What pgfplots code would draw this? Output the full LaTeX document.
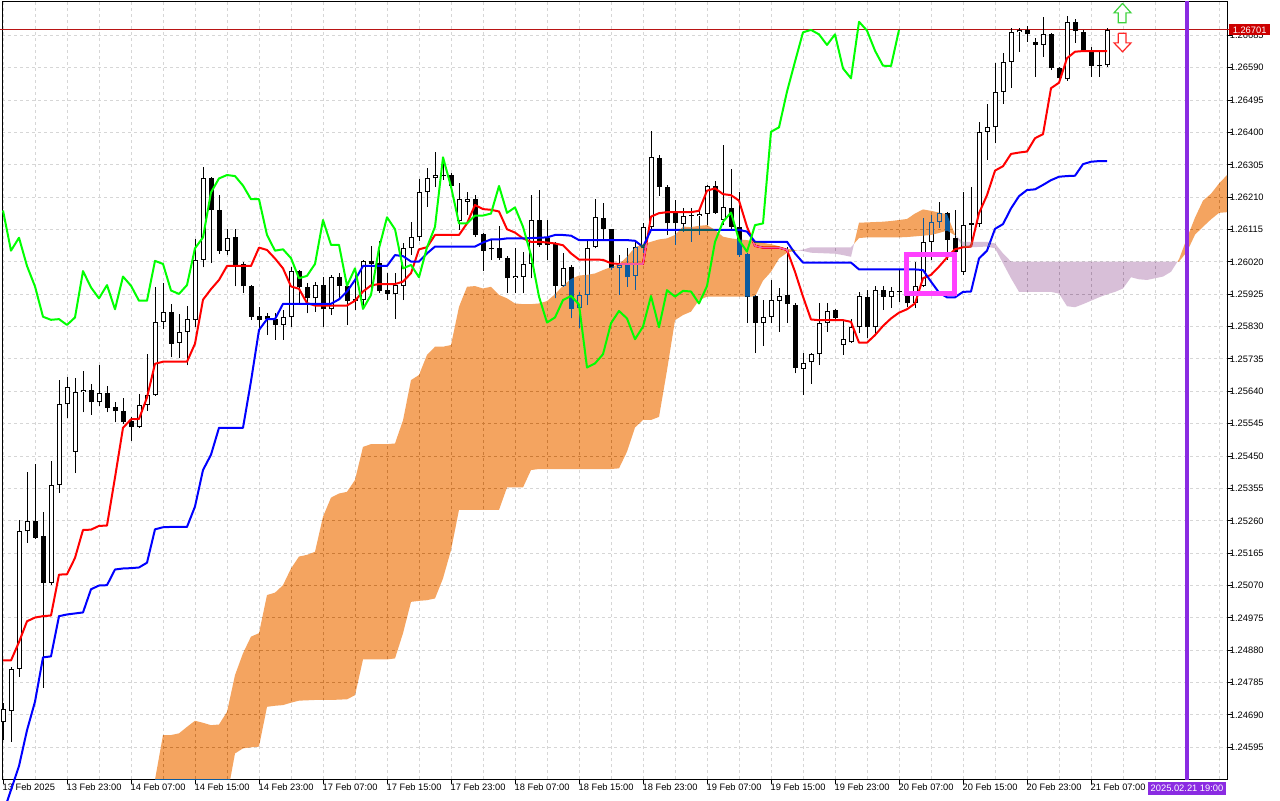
\documentclass[border=0pt]{standalone}
\usepackage{pgfplots}
\usepackage{pgfplotstable}
\pgfplotsset{compat=1.18}
\usepgfplotslibrary{fillbetween}
\usepackage{fontspec}
\setmainfont{Liberation Sans}
\definecolor{cloudinvA}{RGB}{11,91,159}
\definecolor{cloudinvB}{RGB}{39,64,39}
\definecolor{vlinec}{RGB}{138,43,226}
\definecolor{pricered}{RGB}{204,0,0}
\definecolor{pricel}{RGB}{185,20,20}
\definecolor{boxmag}{RGB}{255,64,255}
\definecolor{gridc}{RGB}{214,214,214}
\definecolor{limeg}{RGB}{0,255,0}
\definecolor{arrg}{RGB}{60,210,60}

\pgfplotstableread{
i o h l c
0 1.24668 1.24724 1.24617 1.24707
1 1.24701 1.24830 1.24611 1.24825
2 1.24825 1.25263 1.24802 1.25229
3 1.25229 1.25403 1.25196 1.25260
4 1.25260 1.25428 1.25207 1.25210
5 1.25215 1.25285 1.24769 1.25078
6 1.25078 1.25437 1.25072 1.25366
7 1.25366 1.25673 1.25342 1.25602
8 1.25602 1.25681 1.25561 1.25652
9 1.25463 1.25679 1.25400 1.25638
10 1.25637 1.25701 1.25578 1.25643
11 1.25644 1.25662 1.25572 1.25608
12 1.25608 1.25716 1.25598 1.25635
13 1.25635 1.25656 1.25578 1.25592
14 1.25594 1.25609 1.25549 1.25581
15 1.25581 1.25620 1.25544 1.25551
16 1.25553 1.25566 1.25494 1.25535
17 1.25535 1.25632 1.25533 1.25599
18 1.25600 1.25749 1.25583 1.25630
19 1.25628 1.25945 1.25627 1.25845
20 1.25845 1.25958 1.25822 1.25872
21 1.25874 1.25895 1.25740 1.25780
22 1.25783 1.25866 1.25737 1.25813
23 1.25813 1.25890 1.25716 1.25851
24 1.25849 1.26086 1.25828 1.26027
25 1.26027 1.26299 1.26004 1.26265
26 1.26265 1.26268 1.26018 1.26171
27 1.26171 1.26216 1.26044 1.26053
28 1.26053 1.26116 1.26040 1.26091
29 1.26092 1.26116 1.25948 1.26008
30 1.26014 1.26021 1.25928 1.25948
31 1.25950 1.25952 1.25850 1.25859
32 1.25861 1.25889 1.25815 1.25850
33 1.25861 1.25869 1.25806 1.25852
34 1.25852 1.25869 1.25791 1.25835
35 1.25835 1.25879 1.25791 1.25857
36 1.25857 1.26006 1.25830 1.25993
37 1.25993 1.25995 1.25899 1.25945
38 1.25947 1.25957 1.25869 1.25913
39 1.25913 1.25962 1.25874 1.25952
40 1.25952 1.25977 1.25830 1.25881
41 1.25881 1.25982 1.25864 1.25977
42 1.25977 1.25987 1.25913 1.25950
43 1.25950 1.25962 1.25835 1.25906
44 1.25910 1.26001 1.25879 1.25906
45 1.25908 1.26026 1.25884 1.26023
46 1.26023 1.26067 1.25943 1.26014
47 1.26016 1.26080 1.25928 1.25936
48 1.25938 1.25987 1.25908 1.25926
49 1.25926 1.25987 1.25852 1.25952
50 1.25950 1.26075 1.25908 1.26060
51 1.26060 1.26138 1.26040 1.26092
52 1.26092 1.26263 1.26080 1.26224
53 1.26224 1.26295 1.26182 1.26265
54 1.26265 1.26344 1.26241 1.26275
55 1.26275 1.26324 1.26261 1.26272
56 1.26275 1.26280 1.26241 1.26244
57 1.26141 1.26251 1.26114 1.26204
58 1.26197 1.26226 1.26158 1.26204
59 1.26204 1.26217 1.26094 1.26099
60 1.26101 1.26104 1.25994 1.26053
61 1.26060 1.26086 1.26026 1.26057
62 1.26060 1.26126 1.26026 1.26031
63 1.26031 1.26036 1.25928 1.25972
64 1.25973 1.26060 1.25928 1.25979
65 1.25977 1.26050 1.25928 1.26014
66 1.26014 1.26216 1.25972 1.26143
67 1.26143 1.26231 1.26065 1.26070
68 1.26089 1.26143 1.26026 1.26070
69 1.26074 1.26079 1.25913 1.25950
70 1.25950 1.26045 1.25947 1.26001
71 1.26006 1.26011 1.25854 1.25882
72 1.25884 1.25933 1.25825 1.25923
73 1.25923 1.26082 1.25893 1.26060
74 1.26063 1.26204 1.26060 1.26151
75 1.26148 1.26192 1.26084 1.26116
76 1.26116 1.26118 1.25996 1.26001
77 1.26001 1.26040 1.25923 1.26011
78 1.26011 1.26062 1.25947 1.25975
79 1.25979 1.26079 1.25938 1.26063
80 1.26060 1.26133 1.26045 1.26123
81 1.26123 1.26405 1.26114 1.26327
82 1.26324 1.26334 1.26214 1.26241
83 1.26241 1.26246 1.26099 1.26133
84 1.26167 1.26202 1.26070 1.26133
85 1.26131 1.26177 1.26109 1.26156
86 1.26159 1.26177 1.26079 1.26156
87 1.26155 1.26177 1.26099 1.26162
88 1.26162 1.26246 1.26128 1.26243
89 1.26243 1.26258 1.26162 1.26164
90 1.26143 1.26363 1.26128 1.26180
91 1.26177 1.26292 1.26114 1.26123
92 1.26123 1.26226 1.26035 1.26040
93 1.26043 1.26045 1.25840 1.25918
94 1.25920 1.25923 1.25752 1.25842
95 1.25840 1.25908 1.25773 1.25857
96 1.25859 1.25967 1.25840 1.25908
97 1.25906 1.25942 1.25815 1.25920
98 1.25923 1.26065 1.25840 1.25895
99 1.25893 1.25900 1.25693 1.25710
100 1.25707 1.25752 1.25629 1.25722
101 1.25725 1.25753 1.25663 1.25749
102 1.25749 1.25900 1.25717 1.25840
103 1.25840 1.25900 1.25815 1.25876
104 1.25879 1.25881 1.25849 1.25854
105 1.25776 1.25849 1.25747 1.25793
106 1.25784 1.25851 1.25783 1.25830
107 1.25830 1.25933 1.25810 1.25920
108 1.25918 1.25939 1.25796 1.25828
109 1.25828 1.25949 1.25805 1.25937
110 1.25937 1.25949 1.25879 1.25918
111 1.25918 1.25945 1.25886 1.25935
112 1.25935 1.25996 1.25903 1.25933
113 1.25920 1.25937 1.25889 1.25898
114 1.25898 1.26021 1.25884 1.25949
115 1.25949 1.26148 1.25947 1.26079
116 1.26079 1.26158 1.26026 1.26138
117 1.26138 1.26195 1.26121 1.26165
118 1.26165 1.26167 1.26026 1.26084
119 1.26091 1.26172 1.26035 1.26050
120 1.25991 1.26226 1.25982 1.26128
121 1.26128 1.26241 1.26070 1.26133
122 1.26130 1.26432 1.26123 1.26402
123 1.26402 1.26485 1.26319 1.26415
124 1.26415 1.26603 1.26368 1.26520
125 1.26520 1.26634 1.26485 1.26608
126 1.26608 1.26706 1.26530 1.26694
127 1.26694 1.26706 1.26637 1.26701
128 1.26701 1.26712 1.26667 1.26688
129 1.26665 1.26676 1.26564 1.26657
130 1.26657 1.26738 1.26622 1.26688
131 1.26688 1.26691 1.26583 1.26588
132 1.26588 1.26593 1.26549 1.26559
133 1.26556 1.26742 1.26552 1.26725
134 1.26725 1.26732 1.26664 1.26699
135 1.26696 1.26701 1.26637 1.26640
136 1.26637 1.26652 1.26564 1.26596
137 1.26598 1.26642 1.26564 1.26595
138 1.26598 1.26706 1.26593 1.26701
}\candles

\pgfplotstableread{
i t k
0 1.24850 1.24400
1 1.24850 1.24470
2 1.24904 1.24540
3 1.24965 1.24645
4 1.24976 1.24729
5 1.24980 1.24859
6 1.24982 1.24862
7 1.25102 1.24980
8 1.25103 1.24985
9 1.25151 1.24988
10 1.25233 1.24991
11 1.25234 1.25059
12 1.25245 1.25070
13 1.25246 1.25071
14 1.25387 1.25117
15 1.25533 1.25120
16 1.25558 1.25121
17 1.25559 1.25123
18 1.25622 1.25137
19 1.25721 1.25235
20 1.25727 1.25241
21 1.25727 1.25242
22 1.25727 1.25242
23 1.25727 1.25242
24 1.25780 1.25302
25 1.25909 1.25409
26 1.25940 1.25454
27 1.25967 1.25533
28 1.26008 1.25533
29 1.26008 1.25533
30 1.26008 1.25533
31 1.26008 1.25670
32 1.26062 1.25820
33 1.26055 1.25852
34 1.26030 1.25852
35 1.26001 1.25897
36 1.25948 1.25897
37 1.25941 1.25897
38 1.25899 1.25897
39 1.25892 1.25897
40 1.25892 1.25897
41 1.25892 1.25897
42 1.25892 1.25910
43 1.25892 1.25933
44 1.25906 1.25967
45 1.25933 1.26008
46 1.25951 1.26008
47 1.25955 1.26008
48 1.25955 1.26008
49 1.25955 1.26040
50 1.25962 1.26037
51 1.25987 1.26021
52 1.26057 1.26021
53 1.26063 1.26045
54 1.26099 1.26065
55 1.26099 1.26065
56 1.26099 1.26065
57 1.26099 1.26065
58 1.26133 1.26065
59 1.26187 1.26065
60 1.26175 1.26077
61 1.26173 1.26086
62 1.26168 1.26086
63 1.26116 1.26089
64 1.26106 1.26089
65 1.26089 1.26089
66 1.26079 1.26090
67 1.26079 1.26091
68 1.26077 1.26092
69 1.26074 1.26099
70 1.26069 1.26099
71 1.26045 1.26097
72 1.26027 1.26084
73 1.26027 1.26084
74 1.26027 1.26084
75 1.26026 1.26084
76 1.26016 1.26084
77 1.26014 1.26084
78 1.26014 1.26084
79 1.26014 1.26082
80 1.26014 1.26064
81 1.26153 1.26114
82 1.26163 1.26114
83 1.26166 1.26114
84 1.26166 1.26114
85 1.26166 1.26114
86 1.26166 1.26114
87 1.26170 1.26114
88 1.26229 1.26114
89 1.26236 1.26114
90 1.26219 1.26114
91 1.26216 1.26114
92 1.26200 1.26114
93 1.26123 1.26109
94 1.26067 1.26079
95 1.26062 1.26079
96 1.26062 1.26079
97 1.26062 1.26079
98 1.26055 1.26079
99 1.25991 1.26045
100 1.25918 1.26018
101 1.25851 1.26018
102 1.25849 1.26018
103 1.25849 1.26018
104 1.25849 1.26018
105 1.25849 1.26018
106 1.25844 1.26018
107 1.25783 1.25998
108 1.25783 1.25998
109 1.25805 1.25998
110 1.25832 1.25998
111 1.25854 1.25998
112 1.25871 1.25998
113 1.25881 1.25998
114 1.25898 1.25998
115 1.25972 1.25996
116 1.25982 1.25962
117 1.26006 1.25930
118 1.26033 1.25916
119 1.26057 1.25916
120 1.26063 1.25932
121 1.26065 1.25933
122 1.26163 1.26030
123 1.26216 1.26053
124 1.26288 1.26117
125 1.26301 1.26131
126 1.26337 1.26177
127 1.26341 1.26213
128 1.26344 1.26231
129 1.26383 1.26233
130 1.26395 1.26246
131 1.26530 1.26260
132 1.26546 1.26270
133 1.26618 1.26272
134 1.26637 1.26273
135 1.26639 1.26307
136 1.26639 1.26314
137 1.26639 1.26316
138 1.26639 1.26316
}\lines

\pgfplotstableread{
i ch
0 1.26171
1 1.26053
2 1.26091
3 1.26008
4 1.25948
5 1.25859
6 1.25850
7 1.25852
8 1.25835
9 1.25857
10 1.25993
11 1.25945
12 1.25913
13 1.25952
14 1.25881
15 1.25977
16 1.25950
17 1.25906
18 1.25906
19 1.26023
20 1.26014
21 1.25936
22 1.25926
23 1.25952
24 1.26060
25 1.26092
26 1.26224
27 1.26265
28 1.26275
29 1.26272
30 1.26244
31 1.26204
32 1.26204
33 1.26099
34 1.26053
35 1.26057
36 1.26031
37 1.25972
38 1.25979
39 1.26014
40 1.26143
41 1.26070
42 1.26070
43 1.25950
44 1.26001
45 1.25882
46 1.25923
47 1.26060
48 1.26151
49 1.26116
50 1.26001
51 1.26011
52 1.25975
53 1.26063
54 1.26123
55 1.26327
56 1.26241
57 1.26133
58 1.26133
59 1.26156
60 1.26156
61 1.26162
62 1.26243
63 1.26164
64 1.26180
65 1.26123
66 1.26040
67 1.25918
68 1.25842
69 1.25857
70 1.25908
71 1.25920
72 1.25895
73 1.25710
74 1.25722
75 1.25749
76 1.25840
77 1.25876
78 1.25854
79 1.25793
80 1.25830
81 1.25920
82 1.25828
83 1.25937
84 1.25918
85 1.25935
86 1.25933
87 1.25898
88 1.25949
89 1.26079
90 1.26138
91 1.26165
92 1.26084
93 1.26050
94 1.26128
95 1.26133
96 1.26402
97 1.26415
98 1.26520
99 1.26608
100 1.26694
101 1.26701
102 1.26688
103 1.26657
104 1.26688
105 1.26588
106 1.26559
107 1.26725
108 1.26699
109 1.26640
110 1.26596
111 1.26595
112 1.26701
}\chikou

\pgfplotstableread{
i A B
17 1.24300 1.24300
18 1.24400 1.24300
19 1.24500 1.24300
20 1.24631 1.24300
21 1.24631 1.24300
22 1.24636 1.24300
23 1.24655 1.24300
24 1.24673 1.24300
25 1.24667 1.24300
26 1.24660 1.24300
27 1.24662 1.24300
28 1.24699 1.24450
29 1.24807 1.24577
30 1.24871 1.24592
31 1.24920 1.24595
32 1.24930 1.24597
33 1.25042 1.24714
34 1.25049 1.24717
35 1.25071 1.24719
36 1.25120 1.24726
37 1.25155 1.24732
38 1.25160 1.24733
39 1.25169 1.24734
40 1.25272 1.24734
41 1.25328 1.24734
42 1.25340 1.24735
43 1.25345 1.24736
44 1.25380 1.24748
45 1.25477 1.24853
46 1.25485 1.24853
47 1.25485 1.24853
48 1.25485 1.24853
49 1.25487 1.24856
50 1.25555 1.24930
51 1.25673 1.25022
52 1.25688 1.25025
53 1.25747 1.25027
54 1.25771 1.25032
55 1.25771 1.25091
56 1.25776 1.25174
57 1.25888 1.25292
58 1.25947 1.25292
59 1.25949 1.25292
60 1.25942 1.25292
61 1.25947 1.25292
62 1.25923 1.25292
63 1.25913 1.25358
64 1.25898 1.25358
65 1.25896 1.25358
66 1.25896 1.25409
67 1.25898 1.25412
68 1.25905 1.25412
69 1.25925 1.25412
70 1.25950 1.25412
71 1.25970 1.25412
72 1.25980 1.25412
73 1.25982 1.25412
74 1.25986 1.25412
75 1.25996 1.25412
76 1.26005 1.25412
77 1.26013 1.25414
78 1.26035 1.25463
79 1.26063 1.25534
80 1.26072 1.25556
81 1.26079 1.25556
82 1.26086 1.25565
83 1.26089 1.25702
84 1.26099 1.25849
85 1.26124 1.25864
86 1.26122 1.25874
87 1.26126 1.25908
88 1.26128 1.25918
89 1.26114 1.25918
90 1.26094 1.25918
91 1.26089 1.25918
92 1.26086 1.25918
93 1.26084 1.25918
94 1.26079 1.25918
95 1.26076 1.25965
96 1.26072 1.25991
97 1.26066 1.26030
98 1.26059 1.26047
99 1.26055 1.26053
100 1.26052 1.26056
101 1.26047 1.26063
102 1.26046 1.26063
103 1.26045 1.26063
104 1.26044 1.26063
105 1.26040 1.26063
106 1.26035 1.26063
107 1.26135 1.26090
108 1.26136 1.26092
109 1.26137 1.26092
110 1.26138 1.26092
111 1.26140 1.26092
112 1.26143 1.26092
113 1.26146 1.26093
114 1.26162 1.26095
115 1.26174 1.26097
116 1.26170 1.26099
117 1.26165 1.26105
118 1.26160 1.26112
119 1.26100 1.26098
120 1.26063 1.26079
121 1.26063 1.26079
122 1.26064 1.26079
123 1.26065 1.26079
124 1.26060 1.26074
125 1.26016 1.26045
126 1.25972 1.26021
127 1.25932 1.26021
128 1.25932 1.26021
129 1.25932 1.26021
130 1.25932 1.26021
131 1.25932 1.26021
132 1.25927 1.26021
133 1.25890 1.26021
134 1.25887 1.26021
135 1.25896 1.26021
136 1.25906 1.26021
137 1.25916 1.26021
138 1.25925 1.26021
139 1.25932 1.26021
140 1.25942 1.26021
141 1.25975 1.26021
142 1.25969 1.26021
143 1.25967 1.26021
144 1.25972 1.26021
145 1.25977 1.26021
146 1.25991 1.26021
147 1.26028 1.26021
148 1.26090 1.26050
149 1.26150 1.26100
150 1.26200 1.26123
151 1.26220 1.26145
152 1.26250 1.26164
153 1.26275 1.26166
}\cloud

\begin{document}
\begin{tikzpicture}
\begin{axis}[
  set layers,
  at={(1.5pt,15.75pt)}, anchor=south west,
  scale only axis, width=918.75pt, height=582.75pt,
  xmin=-0.125, xmax=153, ymin=1.24502, ymax=1.26783,
  axis background/.style={fill=white},
  axis line style={black, line width=0.75pt},
  tick align=outside, major tick length=3.5pt, minor tick length=0pt,
  tick style={black, line width=0.75pt},
  xtick pos=left, ytick pos=right,
  xtick={0,8,...,136},
  xticklabels={13 Feb 2025,13 Feb 23:00,14 Feb 07:00,14 Feb 15:00,14 Feb 23:00,17 Feb 07:00,17 Feb 15:00,17 Feb 23:00,18 Feb 07:00,18 Feb 15:00,18 Feb 23:00,19 Feb 07:00,19 Feb 15:00,19 Feb 23:00,20 Feb 07:00,20 Feb 15:00,20 Feb 23:00,21 Feb 07:00},
  minor xtick={4,12,...,132,140,144,148,152},
  ytick={1.24595,1.24690,1.24785,1.24880,1.24975,1.25070,1.25165,1.25260,1.25355,1.25450,1.25545,1.25640,1.25735,1.25830,1.25925,1.26020,1.26115,1.26210,1.26305,1.26400,1.26495,1.26590,1.26685},
  yticklabels={1.24595,1.24690,1.24785,1.24880,1.24975,1.25070,1.25165,1.25260,1.25355,1.25450,1.25545,1.25640,1.25735,1.25830,1.25925,1.26020,1.26115,1.26210,1.26305,1.26400,1.26495,1.26590,1.26685},
  yticklabel pos=right,
  xmajorgrids, ymajorgrids, xminorgrids,
  major grid style={gridc, line width=0.75pt, dash pattern=on 2.25pt off 2.25pt},
  minor grid style={gridc, line width=0.75pt, dash pattern=on 2.25pt off 2.25pt},
  tick label style={font=\fontsize{7}{8}\selectfont},
  xticklabel style={anchor=north west, inner sep=0pt, xshift=-0.5pt},
  yticklabel style={anchor=west, inner sep=0pt, xshift=-1.5pt},
]
% current price line
\addplot[pricel, line width=0.75pt, forget plot, on layer=pre main] coordinates {(-1,1.26701) (154,1.26701)};

% candle wicks
\addplot[draw=none, mark=none, forget plot, on layer=pre main,
  error bars/.cd, y dir=plus, y explicit, error mark=none,
  error bar style={draw=black, line width=0.75pt, line cap=butt}]
  table[x=i, y=l, y error plus expr={\thisrow{h}-\thisrow{l}}] {\candles};
% candle bodies (outline / bear fill)
\addplot[draw=none, mark=none, forget plot, on layer=pre main,
  error bars/.cd, y dir=plus, y explicit, error mark=none,
  error bar style={draw=black, line width=3.75pt, line cap=butt}]
  table[x=i, y expr={min(\thisrow{o},\thisrow{c})},
        y error plus expr={max(abs(\thisrow{c}-\thisrow{o}),0.00003)}] {\candles};
% bull body interior
\addplot[draw=none, mark=none, forget plot, on layer=pre main,
  error bars/.cd, y dir=plus, y explicit, error mark=none,
  error bar style={draw=white, line width=2.25pt, line cap=butt}]
  table[x=i, y expr={\thisrow{o}+0.0000294},
        y error plus expr={(\thisrow{c}>\thisrow{o})*max(\thisrow{c}-\thisrow{o}-0.0000588,0)}] {\candles};

% tenkan / kijun
\addplot[red, line width=1.5pt, line join=round, mark=none, on layer=pre main] table[x=i, y=t] {\lines};
\addplot[blue, line width=1.5pt, line join=round, mark=none, on layer=pre main] table[x=i, y=k] {\lines};

% cloud edges
\addplot[name path=SA, draw=none, mark=none, forget plot] table[x=i, y=A] {\cloud};
\addplot[name path=SB, draw=none, mark=none, forget plot] table[x=i, y=B] {\cloud};
\addplot[fill=cloudinvA, draw=none, blend mode=difference, forget plot] fill between[of=SA and SB, soft clip={domain=17:99.4}];
\addplot[fill=cloudinvB, draw=none, blend mode=difference, forget plot] fill between[of=SA and SB, soft clip={domain=99.4:106.4}];
\addplot[fill=cloudinvA, draw=none, blend mode=difference, forget plot] fill between[of=SA and SB, soft clip={domain=106.4:119.1}];
\addplot[fill=cloudinvB, draw=none, blend mode=difference, forget plot] fill between[of=SA and SB, soft clip={domain=119.1:146.8}];
\addplot[fill=cloudinvA, draw=none, blend mode=difference, forget plot] fill between[of=SA and SB, soft clip={domain=146.8:153}];

% chikou
\addplot[limeg, line width=1.5pt, line join=round, mark=none] table[x=i, y=ch] {\chikou};

% vertical time line
\addplot[vlinec, line width=3.2pt, forget plot] coordinates {(148,1.24400) (148,1.26900)};

% magenta box
\addplot[boxmag, line width=3.75pt, line join=miter, forget plot] coordinates {(112.9,1.26043) (118.9,1.26043) (118.9,1.25926) (112.9,1.25926) (112.9,1.26043) (118.9,1.26043)};

% arrows
\addplot[draw=arrg, fill=white, line width=0.9pt, line join=miter, forget plot] coordinates {(139.94,1.26779) (141.0,1.26751) (140.375,1.26751) (140.375,1.26722) (139.41,1.26722) (139.41,1.26751) (138.875,1.26751) (139.94,1.26779)};
\addplot[draw=red!85!white, fill=white, line width=0.9pt, line join=miter, forget plot] coordinates {(139.41,1.26691) (140.375,1.26691) (140.375,1.26663) (141.0,1.26663) (139.94,1.26637) (138.875,1.26663) (139.41,1.26663) (139.41,1.26691)};

\coordinate (P) at (axis cs:153,1.26701);
\coordinate (V) at (axis cs:148,1.24502);
\end{axis}
\node[fill=pricered, text=white, font=\fontsize{7}{8}\selectfont, inner xsep=2.6pt, inner ysep=0pt, minimum height=8.2pt, anchor=west] at ([xshift=1.5pt]P) {1.26701};
\node[fill=vlinec, text=white, font=\fontsize{7}{8}\selectfont, inner xsep=2.2pt, inner ysep=0pt, minimum height=9.5pt, anchor=north] at ([yshift=-2.25pt]V) {2025.02.21 19:00};
\path[use as bounding box] (0,0) rectangle (960pt,600pt);
\end{tikzpicture}
\end{document}
